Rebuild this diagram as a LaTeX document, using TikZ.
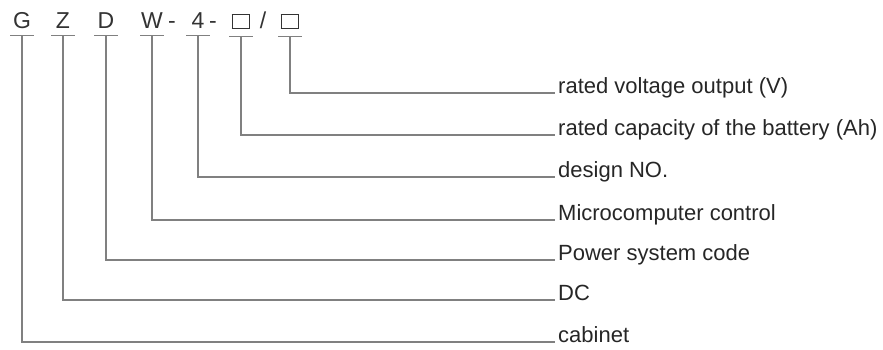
\documentclass[tikz,border=0pt]{standalone}
\usepackage{fontspec}
\setmainfont{Liberation Sans}
\begin{document}
\begin{tikzpicture}[x=1pt,y=-1pt,
  code/.style={anchor=base,inner xsep=0pt,inner ysep=7pt,minimum width=23pt,text=black!80,font=\fontsize{23}{27}\selectfont},
  sep/.style={anchor=base,inner sep=0pt,text=black!80,font=\fontsize{23}{27}\selectfont},
  desc/.style={anchor=base west,inner xsep=3pt,inner ysep=0pt,text=black!85,font=\fontsize{22}{26}\selectfont},
  lead/.style={draw=gray,line width=1.2pt}]
\useasboundingbox (0,0) rectangle (883,349);
% model code letters
\foreach \name/\x/\txt in {g/22/G, z/63/Z, d/106/D, w/152/W, four/198/4}
  \node[code] (\name) at (\x,28) {\txt};
\node[code] (boxa) at (241,28) {\fboxrule=1.4pt\fboxsep=0pt\fbox{\rule{0pt}{13pt}\hspace{16pt}}};
\node[code] (boxb) at (290,28) {\fboxrule=1.4pt\fboxsep=0pt\fbox{\rule{0pt}{13pt}\hspace{16pt}}};
\node[sep] (dasha) at (172,28) {-};
\node[sep] (dashb) at (213,28) {-};
\node[sep] (slash) at (263,28) {/};
% descriptions
\node[desc] (volt) at (555,93) {rated voltage output (V)};
\node[desc] (capty) at (555,135) {rated capacity of the battery (Ah)};
\node[desc] (design) at (555,177) {design NO.};
\node[desc] (micro) at (555,220) {Microcomputer control};
\node[desc] (power) at (555,260) {Power system code};
\node[desc] (dc) at (555,300) {DC};
\node[desc] (cabinet) at (555,342) {cabinet};
% underlines and leads
\foreach \n in {g,z,d,w,four,boxa,boxb}
  \draw[lead] (\n.south west) -- (\n.south east);
\foreach \a/\b in {boxb/volt, boxa/capty, four/design, w/micro, d/power, z/dc, g/cabinet}
  \draw[lead] (\a.south) |- (\b.base west);
\end{tikzpicture}
\end{document}
